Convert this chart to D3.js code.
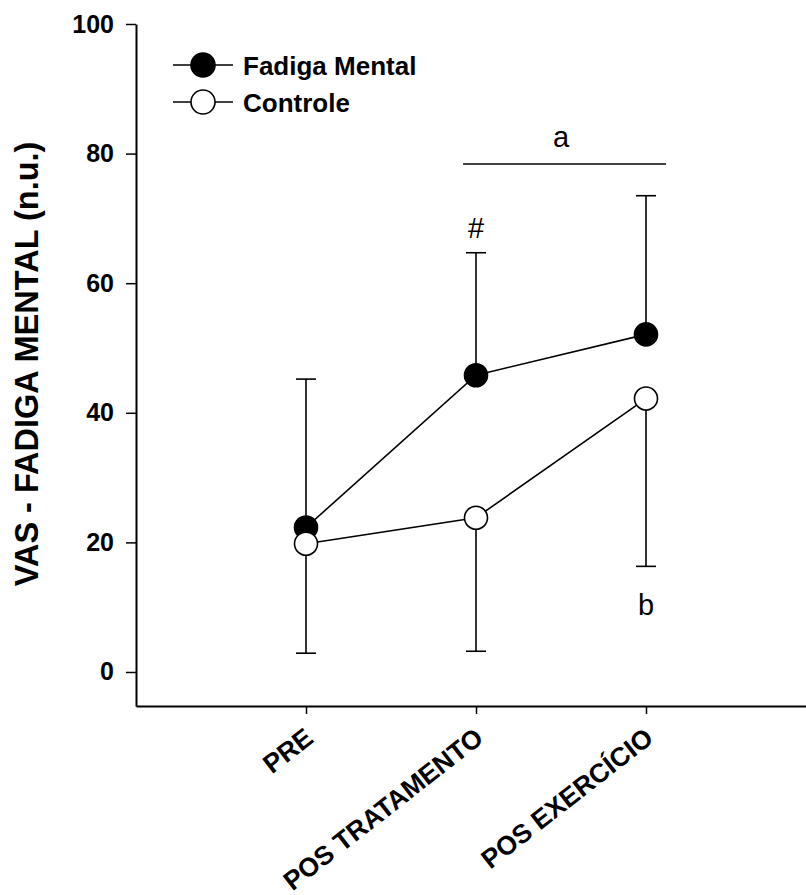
<!DOCTYPE html>
<html>
<head>
<meta charset="utf-8">
<script src="https://cdn.jsdelivr.net/npm/d3@7"></script>
<style>
  body { margin: 0; background: #fff; }
  svg text { font-family: Arial, "Liberation Sans", sans-serif; fill: #000; }
</style>
</head>
<body>
<div id="chart"></div>
<script>
// VAS - fadiga mental: mean +/- SD at three time points

const timepoints = ['PRE', 'POS TRATAMENTO', 'POS EXERCÍCIO'];
const fadigaMean = [22.3, 45.8, 52.1];
const fadigaSD = [22.9, 18.9, 21.4];      // drawn upward
const controleMean = [19.8, 23.8, 42.2];
const controleSD = [16.9, 20.6, 25.9];    // drawn downward
const yTicks = [0, 20, 40, 60, 80, 100];

// annotations: [x index, y value, label]
const marks = [
  { x: 2, y: 67.0, text: '#' },
  { x: 2.5, y: 81.0, text: 'a' },
  { x: 3, y: 8.8, text: 'b' }
];
const bracket = { x0: 1.924, x1: 3.118, y: 78.4 };

const W = 806, H = 895;

const svg = d3.select('#chart').append('svg')
  .attr('width', W).attr('height', H);

const x = d3.scaleLinear().domain([0, 4]).range([136, 816]);
const y = d3.scaleLinear().domain([-5.25, 100]).range([706, 24]);

// Axes
const yAxis = svg.append('g')
  .attr('transform', 'translate(136,0)')
  .call(d3.axisLeft(y).tickValues(yTicks).tickSize(10).tickSizeOuter(0).tickPadding(12));
yAxis.select('.domain').attr('stroke-width', 2);
yAxis.selectAll('.tick line').attr('stroke-width', 1.5);
yAxis.selectAll('.tick text')
  .attr('font-size', '25px').attr('font-weight', 'bold')
  .attr('font-family', 'Arial, "Liberation Sans", sans-serif');

const xAxis = svg.append('g')
  .attr('transform', 'translate(0,706)')
  .call(d3.axisBottom(x).tickValues([1, 2, 3]).tickSize(8).tickSizeOuter(0).tickFormat(''));
xAxis.select('.domain').attr('stroke-width', 2);
xAxis.selectAll('.tick line').attr('stroke-width', 1.5);

svg.selectAll('.xlabel')
  .data(timepoints)
  .join('text')
  .attr('class', 'xlabel')
  .attr('transform', (d, i) => `translate(${x(i + 1) + 9},741) rotate(-38)`)
  .attr('text-anchor', 'end')
  .attr('font-size', '26.5px').attr('font-weight', 'bold')
  .text(d => d);

svg.append('text')
  .attr('transform', 'translate(38,364) rotate(-90)')
  .attr('text-anchor', 'middle')
  .attr('font-size', '32.5px').attr('font-weight', 'bold')
  .text('VAS - FADIGA MENTAL (n.u.)');

// Error bars
function errorBars(mean, sd, dir) {
  const g = svg.append('g').attr('stroke', '#000').attr('stroke-width', 1.6);
  mean.forEach((m, i) => {
    const cx = x(i + 1);
    const end = y(m + dir * sd[i]);
    g.append('line').attr('x1', cx).attr('x2', cx).attr('y1', y(m)).attr('y2', end);
    g.append('line').attr('x1', cx - 10).attr('x2', cx + 10).attr('y1', end).attr('y2', end);
  });
}
errorBars(fadigaMean, fadigaSD, 1);
errorBars(controleMean, controleSD, -1);

// Lines + markers
const line = d3.line().x((d, i) => x(i + 1)).y(d => y(d));

[fadigaMean, controleMean].forEach(vals => {
  svg.append('path')
    .attr('d', line(vals))
    .attr('fill', 'none').attr('stroke', '#000').attr('stroke-width', 1.6);
});
[[fadigaMean, '#000'], [controleMean, '#fff']].forEach(([vals, fill]) => {
  svg.selectAll(null)
    .data(vals)
    .join('circle')
    .attr('cx', (d, i) => x(i + 1))
    .attr('cy', d => y(d))
    .attr('r', 11.5)
    .attr('fill', fill).attr('stroke', '#000').attr('stroke-width', 1.6);
});

// Significance annotations
svg.append('line')
  .attr('x1', x(bracket.x0)).attr('x2', x(bracket.x1))
  .attr('y1', y(bracket.y)).attr('y2', y(bracket.y))
  .attr('stroke', '#000').attr('stroke-width', 1.5);

svg.selectAll('.mark')
  .data(marks)
  .join('text')
  .attr('class', 'mark')
  .attr('x', d => x(d.x)).attr('y', d => y(d.y))
  .attr('text-anchor', 'middle')
  .attr('font-size', '29px')
  .text(d => d.text);

// Legend
const legendItems = [['Fadiga Mental', '#000'], ['Controle', '#fff']];
const legend = svg.append('g').attr('transform', 'translate(173,65)');
legendItems.forEach(([name, fill], i) => {
  const lg = legend.append('g').attr('transform', `translate(0,${i * 37})`);
  lg.append('line').attr('x1', 0).attr('x2', 60).attr('y1', 0).attr('y2', 0)
    .attr('stroke', '#000').attr('stroke-width', 1.6);
  lg.append('circle').attr('cx', 30).attr('cy', 0).attr('r', 12)
    .attr('fill', fill).attr('stroke', '#000').attr('stroke-width', 1.6);
  lg.append('text').attr('x', 70).attr('y', 10)
    .attr('font-size', '26px').attr('font-weight', 'bold')
    .text(name);
});
</script>
</body>
</html>
